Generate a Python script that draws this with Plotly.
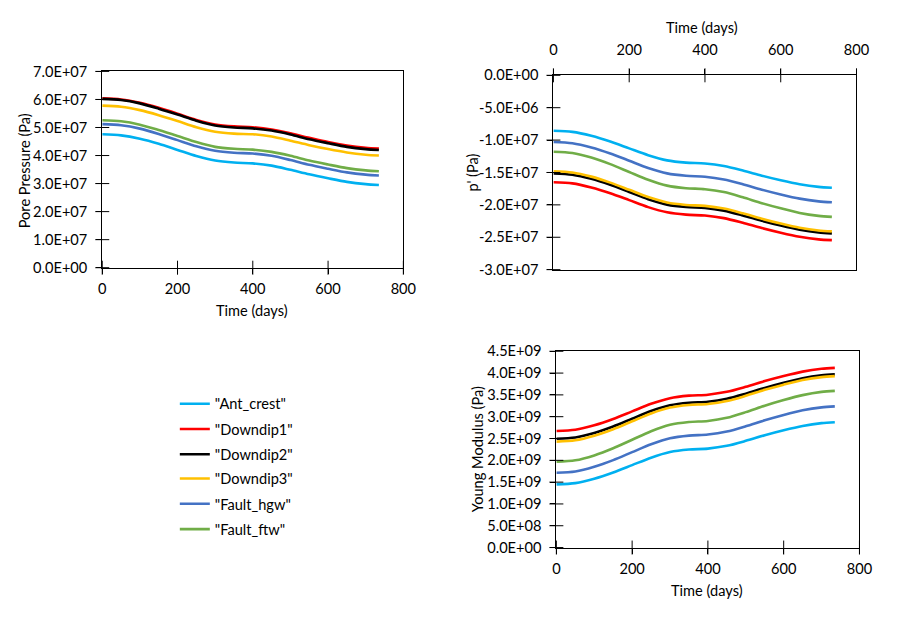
import plotly.graph_objects as go

# ---------------- data ----------------
time_days = [0, 50, 100, 150, 200, 250, 300, 350, 400, 450, 500, 550, 600, 650, 700, 735]

series_names = ['"Ant_crest"', '"Downdip1"', '"Downdip2"', '"Downdip3"', '"Fault_hgw"', '"Fault_ftw"']
series_colors = ["#00B0F0", "#FF0000", "#000000", "#FFC000", "#4472C4", "#70AD47"]

# Pore pressure (x1e7 Pa)
pp_ant_crest = [4.76, 4.72, 4.60, 4.42, 4.20, 3.98, 3.82, 3.75, 3.72, 3.64, 3.49, 3.33, 3.19, 3.06, 2.98, 2.95]
pp_downdip1 = [6.04, 6.00, 5.88, 5.70, 5.49, 5.27, 5.11, 5.04, 5.01, 4.93, 4.79, 4.63, 4.48, 4.36, 4.28, 4.25]
pp_downdip2 = [6.02, 5.98, 5.86, 5.67, 5.46, 5.24, 5.07, 5.00, 4.97, 4.89, 4.75, 4.58, 4.44, 4.31, 4.23, 4.20]
pp_downdip3 = [5.78, 5.74, 5.62, 5.44, 5.23, 5.01, 4.85, 4.78, 4.76, 4.68, 4.53, 4.37, 4.23, 4.11, 4.03, 4.00]
pp_fault_hgw = [5.12, 5.08, 4.96, 4.77, 4.55, 4.33, 4.17, 4.10, 4.07, 3.99, 3.84, 3.67, 3.53, 3.40, 3.32, 3.29]
pp_fault_ftw = [5.26, 5.22, 5.10, 4.91, 4.70, 4.48, 4.31, 4.24, 4.21, 4.13, 3.99, 3.82, 3.68, 3.55, 3.47, 3.44]

# p' (x1e7 Pa)
pe_ant_crest = [-0.855, -0.873, -0.934, -1.022, -1.128, -1.233, -1.313, -1.348, -1.361, -1.401, -1.471, -1.550, -1.621, -1.682, -1.722, -1.735]
pe_downdip1 = [-1.650, -1.668, -1.731, -1.820, -1.927, -2.035, -2.115, -2.151, -2.165, -2.205, -2.277, -2.357, -2.429, -2.491, -2.532, -2.545]
pe_downdip2 = [-1.515, -1.534, -1.598, -1.691, -1.802, -1.913, -1.996, -2.033, -2.047, -2.089, -2.163, -2.246, -2.320, -2.384, -2.426, -2.440]
pe_downdip3 = [-1.480, -1.499, -1.564, -1.657, -1.768, -1.880, -1.964, -2.001, -2.015, -2.057, -2.131, -2.215, -2.289, -2.354, -2.396, -2.410]
pe_fault_hgw = [-1.030, -1.049, -1.114, -1.207, -1.318, -1.430, -1.514, -1.551, -1.565, -1.607, -1.681, -1.765, -1.839, -1.904, -1.946, -1.960]
pe_fault_ftw = [-1.180, -1.200, -1.270, -1.371, -1.492, -1.612, -1.703, -1.743, -1.758, -1.803, -1.884, -1.974, -2.054, -2.125, -2.170, -2.185]

# Young modulus (x1e9 Pa)
ym_ant_crest = [1.448, 1.477, 1.576, 1.719, 1.890, 2.061, 2.190, 2.247, 2.268, 2.332, 2.446, 2.575, 2.689, 2.788, 2.853, 2.874]
ym_downdip1 = [2.673, 2.702, 2.803, 2.948, 3.122, 3.295, 3.425, 3.483, 3.505, 3.570, 3.686, 3.816, 3.932, 4.033, 4.098, 4.120]
ym_downdip2 = [2.495, 2.525, 2.628, 2.775, 2.952, 3.129, 3.262, 3.321, 3.343, 3.410, 3.528, 3.660, 3.778, 3.882, 3.948, 3.970]
ym_downdip3 = [2.428, 2.458, 2.563, 2.713, 2.894, 3.074, 3.209, 3.269, 3.292, 3.359, 3.479, 3.615, 3.735, 3.840, 3.907, 3.930]
ym_fault_hgw = [1.715, 1.745, 1.852, 2.004, 2.187, 2.369, 2.506, 2.567, 2.590, 2.659, 2.780, 2.917, 3.039, 3.146, 3.214, 3.237]
ym_fault_ftw = [1.967, 2.000, 2.113, 2.276, 2.471, 2.666, 2.813, 2.878, 2.902, 2.975, 3.105, 3.252, 3.382, 3.495, 3.569, 3.593]

# tick labels
x_ticks = [0, 200, 400, 600, 800]
pp_ticks = [0, 1e7, 2e7, 3e7, 4e7, 5e7, 6e7, 7e7]
pp_tick_labels = ["0.0E+00", "1.0E+07", "2.0E+07", "3.0E+07", "4.0E+07", "5.0E+07", "6.0E+07", "7.0E+07"]
pe_ticks = [0, -5e6, -1e7, -1.5e7, -2e7, -2.5e7, -3e7]
pe_tick_labels = ["0.0E+00", "-5.0E+06", "-1.0E+07", "-1.5E+07", "-2.0E+07", "-2.5E+07", "-3.0E+07"]
ym_ticks = [0, 5e8, 1e9, 1.5e9, 2e9, 2.5e9, 3e9, 3.5e9, 4e9, 4.5e9]
ym_tick_labels = ["0.0E+00", "5.0E+08", "1.0E+09", "1.5E+09", "2.0E+09", "2.5E+09", "3.0E+09", "3.5E+09", "4.0E+09", "4.5E+09"]

x_range = [0, 800]
pp_range = [0, 7e7]
pe_range = [-3e7, 0]
ym_range = [0, 4.5e9]

pp_all = [pp_ant_crest, pp_downdip1, pp_downdip2, pp_downdip3, pp_fault_hgw, pp_fault_ftw]
pe_all = [pe_ant_crest, pe_downdip1, pe_downdip2, pe_downdip3, pe_fault_hgw, pe_fault_ftw]
ym_all = [ym_ant_crest, ym_downdip1, ym_downdip2, ym_downdip3, ym_fault_hgw, ym_fault_ftw]

# ---------------- figure ----------------
OFF = 8                     # default page body margin; keep page inside the window
W, H = 903 - 2 * OFF, 617 - 2 * OFF
FONT = "Lato, 'Open Sans', sans-serif"
FS = 14.6

def px_x(a, b):
    return [(a - OFF) / W, (b - OFF) / W]

def px_y(top, bottom):
    return [1 - (bottom - OFF) / H, 1 - (top - OFF) / H]

fig = go.Figure()
LW = 2.6

for i in range(6):
    leg = "legend" if i == 0 else f"legend{i+1}"
    fig.add_trace(go.Scatter(x=time_days, y=[v * 1e7 for v in pp_all[i]], mode="lines",
                             line=dict(color=series_colors[i], width=LW, shape="spline", smoothing=0.8),
                             name=series_names[i], xaxis="x", yaxis="y", showlegend=True, legend=leg,
                             hoverinfo="skip"))
    fig.add_trace(go.Scatter(x=time_days, y=[v * 1e7 for v in pe_all[i]], mode="lines",
                             line=dict(color=series_colors[i], width=LW, shape="spline", smoothing=0.8),
                             name=series_names[i], xaxis="x2", yaxis="y2", showlegend=False,
                             hoverinfo="skip"))
    fig.add_trace(go.Scatter(x=time_days, y=[v * 1e9 for v in ym_all[i]], mode="lines",
                             line=dict(color=series_colors[i], width=LW, shape="spline", smoothing=0.8),
                             name=series_names[i], xaxis="x3", yaxis="y3", showlegend=False,
                             hoverinfo="skip"))

# Excel-style "cross" tick marks: short line markers centred on each axis line
def cross_ticks(xa, ya, xt, yt, x_at, y_at):
    fig.add_trace(go.Scatter(x=xt, y=[y_at] * len(xt), mode="markers", xaxis=xa, yaxis=ya,
                             marker=dict(symbol="line-ns-open", size=10, color="#000000",
                                         line=dict(color="#000000", width=1)),
                             cliponaxis=False, showlegend=False, hoverinfo="skip"))
    fig.add_trace(go.Scatter(x=[x_at] * len(yt), y=yt, mode="markers", xaxis=xa, yaxis=ya,
                             marker=dict(symbol="line-ew-open", size=10, color="#000000",
                                         line=dict(color="#000000", width=1)),
                             cliponaxis=False, showlegend=False, hoverinfo="skip"))

cross_ticks("x", "y", x_ticks, pp_ticks, x_range[0], pp_range[0])
cross_ticks("x2", "y2", x_ticks, pe_ticks, x_range[0], pe_range[1])
cross_ticks("x3", "y3", x_ticks, ym_ticks, x_range[0], ym_range[0])

tickfont = dict(family=FONT, size=FS, color="#000000")
base_axis = dict(showgrid=False, zeroline=False, showline=True, linecolor="#000000", linewidth=1,
                 mirror=True, ticks="outside", ticklen=5, tickcolor="#000000", tickwidth=1,
                 tickfont=tickfont)

d1x, d1y = px_x(100, 407), px_y(64, 266)
d2x, d2y = px_x(560, 869), px_y(68, 268)
d3x, d3y = px_x(563, 872), px_y(352, 554)

fig.update_layout(
    width=W, height=H,
    margin=dict(l=0, r=0, t=0, b=0),
    paper_bgcolor="white", plot_bgcolor="white",
    font=dict(family=FONT, size=FS, color="#000000"),
    xaxis=dict(base_axis, domain=d1x, anchor="y", range=x_range, tickvals=x_ticks,
               ticktext=[str(v) for v in x_ticks], ticklabelstandoff=3),
    yaxis=dict(base_axis, domain=d1y, anchor="x", range=pp_range, tickvals=pp_ticks,
               ticktext=pp_tick_labels, ticklabelstandoff=6),
    xaxis2=dict(base_axis, domain=d2x, anchor="y2", side="top", range=x_range, tickvals=x_ticks,
                ticktext=[str(v) for v in x_ticks], ticklabelstandoff=8),
    yaxis2=dict(base_axis, domain=d2y, anchor="x2", range=pe_range, tickvals=pe_ticks,
                ticktext=pe_tick_labels, ticklabelstandoff=6),
    xaxis3=dict(base_axis, domain=d3x, anchor="y3", range=x_range, tickvals=x_ticks,
                ticktext=[str(v) for v in x_ticks], ticklabelstandoff=3),
    yaxis3=dict(base_axis, domain=d3y, anchor="x3", range=ym_range, tickvals=ym_ticks,
                ticktext=ym_tick_labels, ticklabelstandoff=6),
)

# legends: one per entry for Excel-like spacing
legend_centers = [406, 432, 458, 483, 509, 535]
for i, cy in enumerate(legend_centers):
    key = "legend" if i == 0 else f"legend{i+1}"
    fig.update_layout({key: dict(x=(174 - OFF) / W, y=1 - (cy - OFF) / H, xanchor="left", yanchor="middle",
                                 bgcolor="rgba(0,0,0,0)", borderwidth=0,
                                 font=dict(family=FONT, size=FS, color="#000000"),
                                 itemclick=False, itemdoubleclick=False)})

# axis titles
titles = [
    ("Pore Pressure (Pa)", 21, 166, -90),
    ("Time (days)", 253, 310, 0),
    ("Time (days)", 711, 19, 0),
    ("p' (Pa)", 477, 168, -90),
    ("Young Modulus (Pa)", 483, 453, -90),
    ("Time (days)", 717, 598, 0),
]
for text, cx, cy, ang in titles:
    fig.add_annotation(text=text, x=(cx - OFF) / W, y=1 - (cy - OFF) / H, xref="paper", yref="paper",
                       showarrow=False, textangle=ang, xanchor="center", yanchor="middle",
                       font=dict(family=FONT, size=FS, color="#000000"))

fig.write_html("out.html")
